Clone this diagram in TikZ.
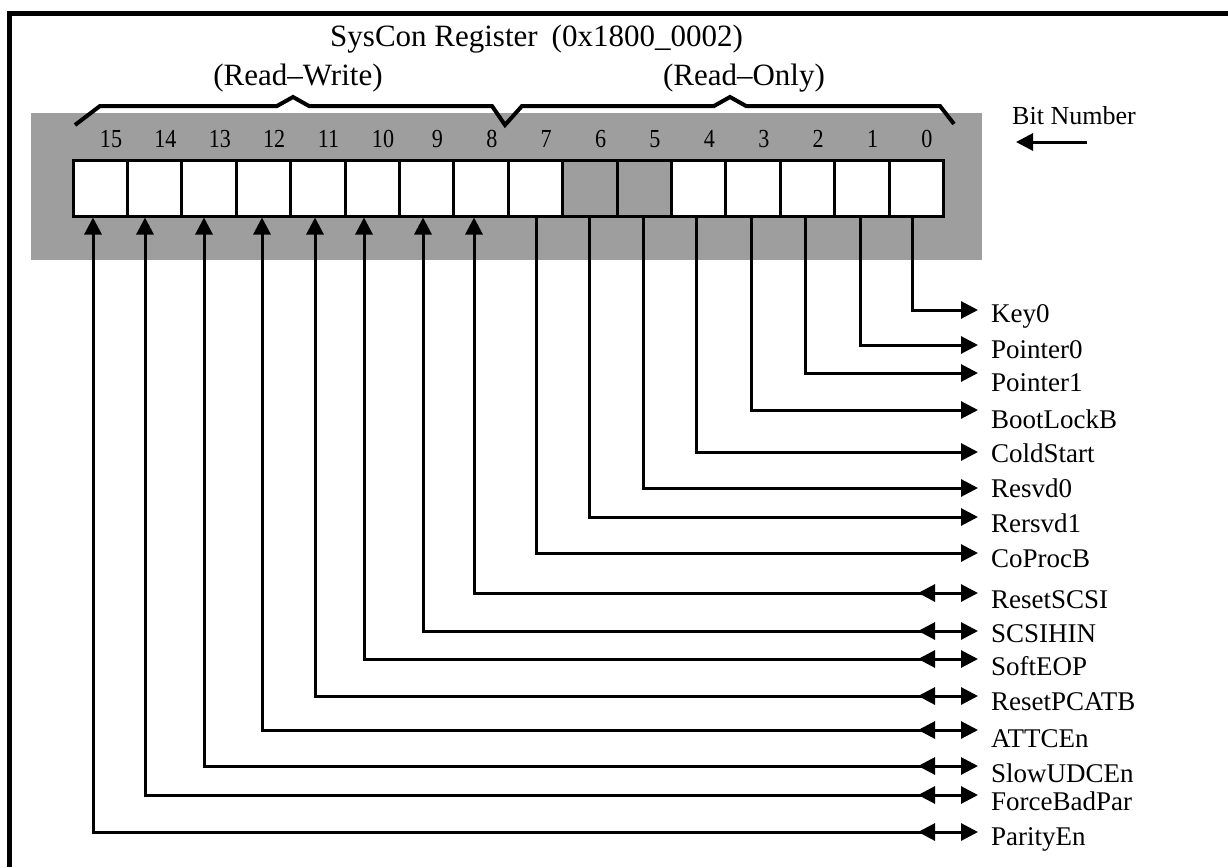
\documentclass[tikz,border=0pt]{standalone}
\usepackage{fontspec}
\setmainfont{Liberation Serif}
\usetikzlibrary{arrows.meta}
\definecolor{stip}{gray}{0.62}
\begin{document}
\begin{tikzpicture}[x=1pt,y=-1pt,
  frame/.style={line width=5pt, line join=miter},
  brace/.style={line width=4pt, line join=miter},
  cell/.style={draw, line width=3pt, fill=white, minimum width=54.4pt, minimum height=56pt, inner sep=0pt, outer sep=0pt},
  numtext/.style={inner sep=0pt, anchor=base, font=\fontsize{26}{26}\selectfont},
  toptext/.style={inner sep=0pt, font=\fontsize{31}{31}\selectfont},
  lab/.style={inner sep=0pt, anchor=base west, font=\fontsize{27}{27}\selectfont},
  wire/.style={line width=3pt},
  tipr/.style={-{Triangle[length=17pt,width=17pt]}},
  tipb/.style={{Triangle[length=17pt,width=17pt]}-{Triangle[length=17pt,width=17pt]}},
  tipl/.style={{Triangle[length=17pt,width=17pt]}-}
]
\useasboundingbox (0,0) rectangle (1228,867);
% frame (open on right and bottom)
\draw[frame] (9,867) -- (9,14) -- (1228,14);
% shaded band
\fill[stip] (31,113) rectangle (982,260);
% braces
\draw[brace] (75,125) -- (100,106) -- (277,106) -- (293,97) -- (309,106) -- (492,106) -- (505,125)
  -- (522,106) -- (714,106) -- (730,97) -- (746,106) -- (940,106) -- (954,124);
% texts on top
\node[toptext, anchor=base west] (title) at (330,47) {SysCon Register\hspace{14pt}(0x1800\_0002)};
\node[toptext, anchor=base] (rw) at (298,85) {(Read–Write)};
\node[toptext, anchor=base] (ro) at (744,85) {(Read–Only)};
% bit number legend
\node[lab, anchor=base west, font=\fontsize{26}{26}\selectfont] (bitnum) at (1012,124) {Bit Number};
\coordinate (bnA) at (1087,142);
\coordinate (bnB) at (1016,142);
\draw[wire, tipr] (bnA) -- (bnB);
% register cells
\foreach \i/\f in {15/white,14/white,13/white,12/white,11/white,10/white,9/white,8/white,7/white,6/stip,5/stip,4/white,3/white,2/white,1/white,0/white}{
  \node[cell, fill=\f] (b\i) at ({100.2+(15-\i)*54.4},188) {};
  \node[numtext] (n\i) at ({111+(15-\i)*54.4},147) {\scalebox{0.85}[1]{\i}};
}
% read-only bits
\foreach \i/\x/\y/\b/\t in {0/912/310/322/Key0, 1/860/345/358/Pointer0, 2/805/373/391/Pointer1, 3/751/410/428/BootLockB, 4/696/452/462/ColdStart, 5/643/488/497/Resvd0, 6/589/517/532/Rersvd1, 7/536/553/567/CoProcB}{
  \coordinate (s\i) at (\x,217.5);
  \coordinate (t\i) at (978,\y);
  \node[lab] (l\i) at (991,\b) {\t};
  \draw[wire, tipr] (s\i) |- (t\i);
}
% read-write bits
\foreach \i/\x/\y/\b/\t in {8/474/593/608/ResetSCSI, 9/423/631/642/SCSIHIN, 10/364/659/675/SoftEOP, 11/315/696/710/ResetPCATB, 12/262/730/747/ATTCEn, 13/204/766/782/SlowUDCEn, 14/145/795/810/ForceBadPar, 15/93/832/845/ParityEn}{
  \coordinate (s\i) at (\x,217.5);
  \coordinate (t\i) at (978,\y);
  \coordinate (m\i) at (918,\y);
  \node[lab] (l\i) at (991,\b) {\t};
  \draw[wire, tipb] (s\i) |- (t\i);
  \draw[wire, tipl] (m\i) -- ++(18,0);
}
\end{tikzpicture}
\end{document}
